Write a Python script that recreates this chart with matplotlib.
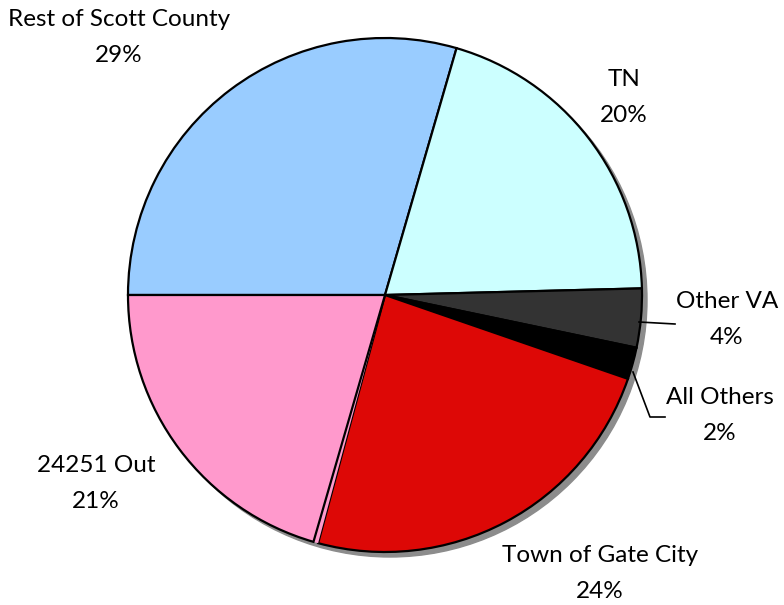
import matplotlib
matplotlib.use("Agg")
import matplotlib.pyplot as plt
from matplotlib.patches import Circle

# Share of trips by origin
categories = ["Rest of Scott County", "TN", "Other VA", "All Others",
              "Town of Gate City", "", "24251 Out"]
shares = [29.49, 20.1, 3.7, 2.0, 23.9, 0.3, 20.51]
colors = ["#99CCFF", "#CCFFFF", "#333333", "#000000",
          "#DD0806", "#FF99CC", "#FF99CC"]

W, H = 784, 605
fig = plt.figure(figsize=(W / 100, H / 100), dpi=100)
ax = fig.add_axes([0, 0, 1, 1])

cx, cy, r = 385, H - 295, 257

# drop shadow behind the pie
ax.add_patch(Circle((cx + 5, cy - 5), r, color="#8c8c8c", zorder=0))

wedges, _ = ax.pie(shares, colors=colors, startangle=180, counterclock=False,
                   center=(cx, cy), radius=r, frame=True,
                   wedgeprops=dict(edgecolor="black", linewidth=1.6))
# the sliver has no outline of its own
wedges[5].set_linewidth(0)
ax.set_xlim(0, W)
ax.set_ylim(0, H)
ax.set_aspect("equal")
ax.axis("off")

font = dict(family=["Lato", "DejaVu Sans"], fontsize=17.5, color="black",
            ha="center", va="center")

label_pos = {
    "Rest of Scott County": (119, 20),
    "TN": (624, 80),
    "Other VA": (727, 302),
    "All Others": (720, 397),
    "Town of Gate City": (600, 556),
    "24251 Out": (96, 465),
}
for name, val in zip(categories, shares):
    if not name:
        continue
    x, y = label_pos[name]
    ax.text(x, H - y, name, **font)
    ax.text(x, H - y - 36, "%d%%" % round(val), **font)

# leader lines for the small slices
ax.plot([639, 675], [H - 322, H - 324], color="black", lw=1.2)
ax.plot([633, 650, 665], [H - 372, H - 417, H - 417], color="black", lw=1.2)

fig.savefig("out.png", dpi=100)
